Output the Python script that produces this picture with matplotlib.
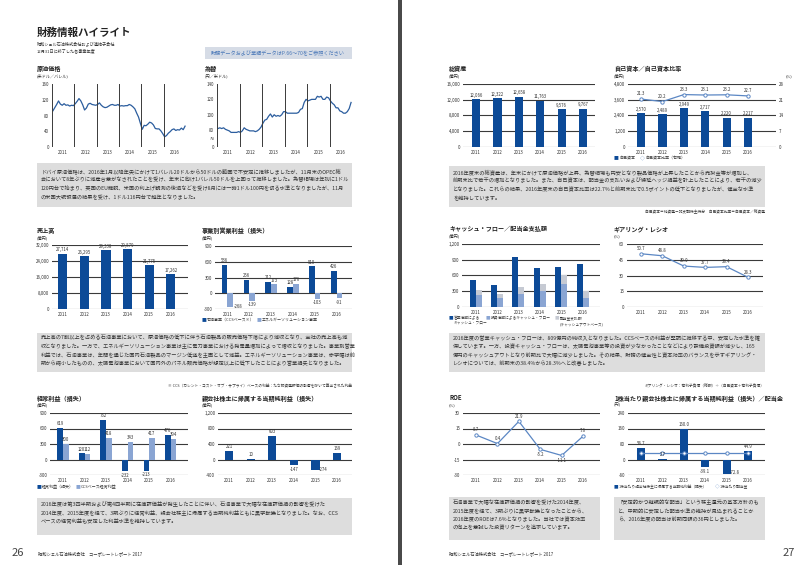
import numpy as np
import matplotlib.pyplot as plt
from matplotlib.patches import Rectangle

plt.rcParams['font.family'] = ['Noto Sans CJK JP', 'DejaVu Sans']

years = ['2011', '2012', '2013', '2014', '2015', '2016']

# monthly values, Jan 2011 - Dec 2016
crude_oil = [92, 100, 108, 117, 109, 106, 110, 106, 107, 104, 106, 105,
             110, 116, 123, 117, 107, 94, 99, 109, 111, 108, 107, 106,
             108, 112, 106, 102, 100, 101, 104, 107, 108, 106, 106, 108,
             104, 105, 104, 105, 105, 108, 106, 102, 97, 86, 76, 60,
             45, 55, 54, 58, 63, 61, 56, 47, 46, 46, 41, 34,
             26, 29, 35, 39, 44, 46, 42, 44, 43, 48, 44, 53]
usd_jpy = [82, 83, 82, 83, 81, 80, 79, 77, 77, 77, 77, 78,
           77, 79, 83, 81, 80, 79, 79, 79, 78, 79, 81, 84,
           89, 93, 94, 98, 101, 97, 100, 98, 99, 98, 100, 104,
           104, 102, 102, 102, 102, 102, 102, 103, 107, 108, 116, 120,
           118, 119, 120, 120, 120, 124, 123, 124, 120, 120, 123, 122,
           118, 115, 113, 109, 109, 105, 104, 102, 102, 104, 108, 116]

sales = [27714, 26295, 29338, 29879, 21775, 17262]
seg_oil = [536, 256, 212, 128, 510, 426]
seg_energy = [-268, -139, 173, 176, -103, -91]
ordinary = [619, 120, 762, -232, -213, 476]
ordinary_ccs = [300, 112, 418, 343, 417, 394]
net_income = [221, 10, 603, -147, -274, 169]

total_assets = [12066, 12322, 12658, 11763, 9576, 9767]
equity = [2570, 2489, 2949, 2717, 2220, 2217]
equity_ratio = [21.3, 20.2, 23.3, 23.1, 23.2, 22.7]
cf_operating = [514, 419, 958, 737, 756, 819]
cf_investing = [230, 170, 240, 300, 440, 180]
dividends_paid = [330, 250, 390, 440, 600, 300]
gearing = [50.7, 48.8, 39.0, 37.7, 38.4, 28.3]
roe = [8.7, 0.4, 21.9, -5.2, -11.1, 7.6]
eps = [58.7, 2.7, 160.0, -39.1, -72.8, 44.9]
dps = [36, 36, 36, 36, 36, 36]

NAVY = '#0c4a97'
LIGHT = '#8aa5d3'
PALE = '#c6cad3'
LINE = '#2b5d9e'
LINE2 = '#5b87c4'
GRID = '#3a3a3a'
TXT = '#333333'
BOX = '#dddddd'
HEAD = '#222222'

W, H = 800, 565
fig = plt.figure(figsize=(W / 100, H / 100), dpi=100)
fig.patch.set_facecolor('white')


def px_ax(x0, y0, x1, y1):
    return fig.add_axes([x0 / W, 1 - y1 / H, (x1 - x0) / W, (y1 - y0) / H])


def put(x, y, s, size=4.1, **kw):
    kw.setdefault('va', 'center')
    kw.setdefault('color', TXT)
    fig.text(x / W, 1 - y / H, s, fontsize=size, **kw)


def title(x, y, s):
    put(x, y, s, 4.4, fontweight='bold', color=HEAD)


def box(x0, y0, x1, y1, color):
    fig.patches.append(Rectangle((x0 / W, 1 - y1 / H), (x1 - x0) / W, (y1 - y0) / H,
                                 transform=fig.transFigure, facecolor=color,
                                 edgecolor='none', zorder=0))


def paragraph(x0, y0, x1, y1, lines, first, step):
    box(x0, y0, x1, y1, BOX)
    for i, s in enumerate(lines):
        put(x0 + 4, first + i * step, s, 3.75)


def key(x, y, color, label, size=2.9, marker='■'):
    put(x, y, marker, size + 0.6, color=color)
    put(x + 5, y, label, size)


def style(ax, ticks, xlim, labels=None):
    ax.set_ylim(ticks[0], ticks[-1])
    ax.set_yticks(ticks)
    ax.set_yticklabels(labels if labels else [f'{t:,}' for t in ticks])
    ax.yaxis.grid(True, color=GRID, lw=0.8)
    ax.set_axisbelow(True)
    for sp in ax.spines.values():
        sp.set_visible(False)
    ax.tick_params(length=0, labelsize=3.2, colors=TXT, pad=2)
    ax.set_xticks(range(6))
    ax.set_xticklabels(years)
    ax.set_xlim(*xlim)
    ax.set_facecolor('none')


def value_labels(ax, xs, vals, fmt='{:,}', gap=1.2, deep=None):
    # deep: negative values below this are labelled beside the bar end
    for x, v in zip(xs, vals):
        if deep is not None and v < deep:
            ax.annotate(fmt.format(v), (x, v), xytext=(2.5, 0.5), textcoords='offset points',
                        ha='left', va='center', fontsize=3.1, color=TXT)
            continue
        ax.annotate(fmt.format(v), (x, v), xytext=(0, gap if v >= 0 else -gap),
                    textcoords='offset points', ha='center',
                    va='bottom' if v >= 0 else 'top', fontsize=3.1, color=TXT)


def series_ax(x0, y0, x1, y1, values, ticks, labels):
    ax = px_ax(x0, y0, x1, y1)
    t = 2011 + (np.arange(len(values)) + 0.5) / 12
    ax.plot(t, values, color=LINE, lw=0.9)
    ax.set_xlim(2011, 2017)
    ax.set_ylim(ticks[0], ticks[-1])
    for yr in range(2011, 2017):
        ax.axvline(yr, color=GRID, lw=0.7)
    ax.axhline(ticks[0], color=GRID, lw=0.6)
    ax.set_yticks(ticks)
    ax.set_yticklabels(labels)
    ax.set_xticks(np.arange(2011, 2017) + 0.5)
    ax.set_xticklabels(years)
    for sp in ax.spines.values():
        sp.set_visible(False)
    ax.tick_params(length=0, labelsize=3.2, colors=TXT, pad=2)
    ax.set_facecolor('none')
    return ax


x = np.arange(6)

# ---------------- left page ----------------
put(37, 33, '財務情報ハイライト', 7.6, fontweight='bold', color=HEAD)
put(37, 44, '昭和シェル石油株式会社および連結子会社', 3.0)
put(37, 51, '12月31日に終了した各事業年度', 3.0)
box(205, 47, 352, 59, '#d6dce6')
put(278, 53, '財務データおよび業績データはP.66～70をご参照ください', 3.7, ha='center', color='#4a78b8')

title(37, 69, '原油価格')
put(37, 76, '(米ドル／バレル)', 3.0)
series_ax(52, 84, 186, 147, crude_oil, [0, 40, 80, 120, 160], ['0', '40', '80', '120', '160'])

title(205, 69, '為替')
put(205, 76, '(円／米ドル)', 3.0)
series_ax(217, 84, 352, 147, usd_jpy, [58, 69, 80, 100, 120, 140], ['0', '≈', '80', '100', '120', '140'])

paragraph(37, 163, 352, 207, [
    'ドバイ原油価格は、2016年1月以降年央にかけて1バレル20ドルから50ドルの範囲で不安定に推移しましたが、11月末のOPEC総',
    '会において8年ぶりに減産合意がなされたことを受け、年末に向け1バレル50ドルを上回って推移しました。為替相場は年初に1ドル',
    '120円台で始まり、英国のEU離脱、米国の利上げ観測の後退などを受け8月には一時1ドル100円を切る水準となりましたが、11月',
    'の米国大統領選の結果を受け、1ドル116円台で越年となりました。'], 171, 8.8)

# sales
title(37, 231, '売上高')
put(37, 238, '(億円)', 3.0)
ax = px_ax(52, 245, 188, 309)
ax.bar(x, sales, width=0.42, color=NAVY)
style(ax, [0, 8000, 16000, 24000, 32000], (-0.5, 5.8))
value_labels(ax, x, sales)

# segment operating income
title(202, 231, '事業別営業利益（損失）')
put(202, 238, '(億円)', 3.0)
ax = px_ax(215, 246, 352, 309)
ax.bar(x - 0.13, seg_oil, width=0.26, color=NAVY)
ax.bar(x + 0.13, seg_energy, width=0.26, color=LIGHT)
style(ax, [-300, 0, 300, 600, 900], (-0.57, 5.71))
value_labels(ax, x - 0.13, seg_oil)
value_labels(ax, x + 0.13, seg_energy, deep=-220)
key(202, 320, NAVY, '石油事業（CCSベース※）')
key(257, 320, LIGHT, 'エネルギーソリューション事業')

paragraph(37, 333, 352, 372, [
    '売上高の7割以上を占める石油事業において、原油価格の低下に伴う石油製品の販売価格下落により減収となり、全社の売上高も減',
    '収となりました。一方で、エネルギーソリューション事業は主に電力事業における発電量増加によって増収となりました。事業別営業',
    '利益では、石油事業は、年間を通じた国内石油製品のマージン低迷を主因として減益。エネルギーソリューション事業は、赤字幅は前',
    '期から縮小したものの、太陽電池事業において国内外のパネル販売価格が想定以上に低下したことにより営業損失となりました。'], 338, 8.5)
put(352, 386, '※ CCS（カレント・コスト・オブ・サプライ）ベースの利益：たな卸資産評価の影響を除いて算出された利益', 2.7, ha='right')

# ordinary income
title(37, 398, '経常利益（損失）')
put(37, 405, '(億円)', 3.0)
ax = px_ax(50, 413, 188, 475)
ax.bar(x - 0.13, ordinary, width=0.26, color=NAVY)
ax.bar(x + 0.13, ordinary_ccs, width=0.26, color=LIGHT)
style(ax, [-300, 0, 300, 600, 900], (-0.6, 5.8))
value_labels(ax, x - 0.13, ordinary)
value_labels(ax, x + 0.13, ordinary_ccs)
key(37, 487, NAVY, '経常利益（損失）')
key(76, 487, LIGHT, 'CCSベース経常利益')

# net income
title(202, 398, '親会社株主に帰属する当期純利益（損失）')
put(202, 405, '(億円)', 3.0)
ax = px_ax(218, 413, 352, 475)
ax.bar(x, net_income, width=0.38, color=NAVY)
style(ax, [-400, 0, 400, 800, 1200], (-0.51, 5.69))
value_labels(ax, x, net_income, deep=-260)

paragraph(37, 498, 352, 535, [
    '2016年度は第3四半期および第4四半期に在庫評価益が発生したことに伴い、石油事業で大幅な在庫評価損の影響を受けた',
    '2014年度、2015年度を経て、3期ぶりに経常利益、親会社株主に帰属する当期純利益ともに黒字転換となりました。なお、CCS',
    'ベースの経常利益も安定した利益水準を維持しています。'], 504, 8.8)

put(12, 553, '26', 8, color='#444444')
put(38, 554, '昭和シェル石油株式会社　コーポレートレポート 2017', 3.1)

# ---------------- right page ----------------
title(449, 69, '総資産')
put(449, 76, '(億円)', 3.0)
ax = px_ax(463, 84, 595, 147)
ax.bar(x, total_assets, width=0.38, color=NAVY)
style(ax, [0, 4000, 8000, 12000, 16000], (-0.61, 5.56))
value_labels(ax, x, total_assets)

title(614, 69, '自己資本／自己資本比率')
put(614, 76, '(億円)', 3.0)
put(786, 76, '(%)', 3.0)
ax = px_ax(628, 84, 776, 147)
ax.bar(x, equity, width=0.38, color=NAVY)
style(ax, [0, 1200, 2400, 3600, 4800], (-0.61, 6.3))
value_labels(ax, x, equity)
ax2 = ax.twinx()
ax2.plot(x, equity_ratio, color=LINE2, lw=0.9, marker='o', ms=2.4, mfc='white', mec=LINE2, mew=0.7)
ax2.set_ylim(0, 28)
ax2.set_yticks([0, 7, 14, 21, 28])
for sp in ax2.spines.values():
    sp.set_visible(False)
ax2.tick_params(length=0, labelsize=3.2, colors=TXT, pad=2)
value_labels(ax2, x, equity_ratio, fmt='{:.1f}', gap=2)
key(614, 158, NAVY, '自己資本')
key(640, 158, LINE2, '自己資本比率（右軸）', marker='◇')

paragraph(449, 166, 765, 207, [
    '2016年度末の総資産は、年末にかけて原油価格が上昇、為替相場も円安となり製品価格が上昇したことから売掛金等が増加し、',
    '前期末比で若干の増加となりました。また、自己資本は、配当金の支払いおよび繰延ヘッジ損益を計上したことにより、若干の減少',
    'となりました。これらの結果、2016年度末の自己資本比率は22.7%と前期末比で0.5ポイントの低下となりましたが、健全な水準',
    'を維持しています。'], 172, 8.8)
put(765, 212, '自己資本＝純資産－非支配株主持分　自己資本比率＝自己資本／総資産', 2.7, ha='right')

# cash flow
title(449, 229, 'キャッシュ・フロー／配当金支払額')
put(449, 236, '(億円)', 3.0)
ax = px_ax(462, 244, 600, 307)
ax.bar(x - 0.15, cf_operating, width=0.28, color=NAVY)
ax.bar(x + 0.13, dividends_paid, width=0.28, color=PALE)
ax.bar(x + 0.13, cf_investing, width=0.28, color=LIGHT)
style(ax, [0, 300, 600, 900, 1200], (-0.65, 5.8))
key(449, 318, NAVY, '営業活動による', size=2.7)
put(454, 324, 'キャッシュ・フロー', 2.7)
key(486, 318, LIGHT, '投資活動によるキャッシュ・フロー', size=2.7)
key(555, 318, PALE, '配当金支払額', size=2.7)
put(560, 324, '(キャッシュアウトベース)', 2.7)

# gearing ratio
title(614, 229, 'ギアリング・レシオ')
put(614, 236, '(%)', 3.0)
ax = px_ax(627, 244, 763, 307)
ax.plot(x, gearing, color=LINE2, lw=0.9, marker='o', ms=2.4, mfc='white', mec=LINE2, mew=0.7)
style(ax, [0, 15, 30, 45, 60], (-0.65, 5.7))
value_labels(ax, x, gearing, fmt='{:.1f}', gap=2)

paragraph(449, 333, 765, 372, [
    '2016年度の営業キャッシュ・フローは、809億円の純収入となりました。CCSベースの利益が堅調に推移する中、安定した水準を確',
    '保しています。一方、投資キャッシュ・フローは、太陽電池事業等の投資が少なかったことなどにより設備投資額が減少し、165',
    '億円のキャッシュアウトとなり前期比で大幅に減少しました。その結果、財務の健全性と資本効率のバランスを示すギアリング・',
    'レシオについては、前期末の38.4%から28.3%へと改善しました。'], 338, 8.5)
put(765, 386, 'ギアリング・レシオ：有利子負債（総額）÷（自己資本＋有利子負債）', 2.7, ha='right')

# ROE
title(449, 398, 'ROE')
put(449, 405, '(%)', 3.0)
ax = px_ax(463, 413, 600, 475)
ax.plot(x, roe, color=LINE2, lw=0.9, marker='o', ms=2.4, mfc='white', mec=LINE2, mew=0.7)
style(ax, [-30, -15, 0, 15, 30], (-0.61, 5.79))
value_labels(ax, x, roe, fmt='{:.1f}', gap=2)

# EPS / DPS
title(614, 398, '1株当たり親会社株主に帰属する当期純利益（損失）／配当金')
put(614, 405, '(円)', 3.0)
ax = px_ax(628, 413, 765, 475)
ax.bar(x, eps, width=0.38, color=NAVY)
ax.plot(x, dps, color=LINE2, lw=0.9, marker='o', ms=2.4, mfc='white', mec=LINE2, mew=0.7)
style(ax, [-80, 0, 80, 160, 240], (-0.61, 5.79))
value_labels(ax, x, eps, fmt='{:.1f}', deep=-60)
key(614, 487, NAVY, '1株当たり親会社株主に帰属する当期純利益（損失）', size=2.7)
key(715, 487, LINE2, '1株当たり配当金', size=2.7, marker='◇')

paragraph(449, 497, 600, 540, [
    '石油事業で大幅な在庫評価損の影響を受けた2014年度、',
    '2015年度を経て、3期ぶりに黒字転換となったことから、',
    '2016年度のROEは7.6%となりました。当社では資本効率',
    'の向上を意識した投資リターンを追求しています。'], 503, 8.3)
paragraph(614, 497, 765, 540, [
    '「安定的かつ継続的な配当」という株主還元の基本方針のも',
    'と、中期的に安定した配当水準の維持が見込まれることか',
    'ら、2016年度の配当は前期同額の36円としました。'], 503, 8.3)

put(449, 554, '昭和シェル石油株式会社　コーポレートレポート 2017', 3.1)
put(783, 553, '27', 8, color='#444444')

# binding gutter
box(398, 0, 402, 565, '#4a4a4a')

fig.savefig('out.png', dpi=100)
